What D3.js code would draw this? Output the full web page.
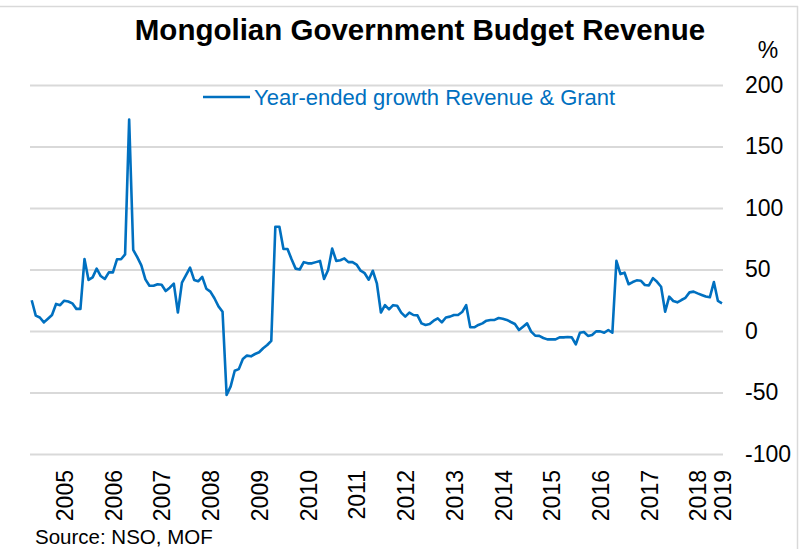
<!DOCTYPE html>
<html>
<head>
<meta charset="utf-8">
<script src="https://cdn.jsdelivr.net/npm/d3@7"></script>
<style>
  body { margin: 0; background: #fff; }
  text { font-family: "Liberation Sans", Arial, sans-serif; }
</style>
</head>
<body>
<div class="graph"></div>
<script>
// monthly year-ended growth, %
var values = [
  25, 12.5, 11, 7, 10, 13, 22, 21, 24.6, 24, 22.5, 18, 18, 58.5, 41.5, 43.6, 50.7, 44.7, 42.3, 47.7,
  47.7, 58.3, 58.3, 62.3, 172, 66, 60, 53.4, 42, 36.8, 36.8, 38, 37.6, 32.5, 35.2, 38.5, 15, 39.3, 45.5, 51.5,
  41.5, 40.4, 44, 34.4, 32, 26.6, 20, 15.7, -52, -45, -32.3, -31, -22.8, -20, -20.6, -18.7, -17.3, -14, -11.4, -8,
  84.8, 84.8, 66.7, 66.7, 58.3, 50.7, 50, 56, 55, 55, 56, 57, 42.3, 49.6, 67, 57, 57.5, 59, 56, 56,
  54, 49, 47, 41.7, 49, 38.8, 15, 21, 17.6, 21, 20.5, 15, 11.7, 15, 13, 12.7, 6.2, 4.9, 5.7, 8.4,
  10.3, 7, 11, 11.7, 13, 13, 15.4, 21, 3, 3, 4.9, 6.2, 8.4, 9, 9, 10.6, 10, 9, 7.3, 5.7,
  0.8, 3.5, 6.2, -0.5, -3.8, -4, -5.7, -6.8, -6.8, -6.8, -5.2, -5.2, -4.9, -5.2, -10.8, -1.5, -0.8, -4, -3.3, -0.3,
  -0.3, -1.4, 0.8, -1.4, 57, 46.3, 47.4, 38, 39.8, 41.2, 40.9, 37.4, 37.1, 43, 40, 36, 15.7, 27.9, 24.4, 23.3,
  25.2, 27, 31.4, 32, 30.6, 29.3, 28, 27.4, 39.8, 24.4, 22.5
]

var yearLabels = ['2005','2006','2007','2008','2009','2010','2011','2012','2013','2014','2015','2016','2017','2018']
var lastLabel = '2019'
var firstLabelMonth = 8
var yTicks = [-100, -50, 0, 50, 100, 150, 200]

var seriesName = 'Year-ended growth Revenue & Grant'
var title = 'Mongolian Government Budget Revenue'
var source = 'Source: NSO, MOF'

// category labels, one per month, blank except at year marks
var categories = values.map((d, i) => '')
yearLabels.forEach((s, k) => categories[firstLabelMonth + 12*k] = s)
categories[values.length - 1] = lastLabel

var width = 804, height = 549
var blue = '#0070C0', grid = '#d9d9d9'

var svg = d3.select('.graph').append('svg')
  .attr('width', width).attr('height', height)

// chart frame
svg.append('line').attr('x1', 0).attr('x2', 798).attr('y1', 6.5).attr('y2', 6.5)
  .attr('stroke', grid).attr('stroke-width', 1.5)
svg.append('line').attr('x1', 797.5).attr('x2', 797.5).attr('y1', 6).attr('y2', height)
  .attr('stroke', grid).attr('stroke-width', 1.5)

var x = d3.scaleLinear().domain([0, values.length - 1]).range([31.7, 722])
var y = d3.scaleLinear().domain([-100, 200]).range([454, 85])

var plotLeft = 30, plotRight = 723

var yAxis = d3.axisRight(y)
  .tickValues(yTicks)
  .tickSize(-(plotRight - plotLeft))
  .tickPadding(22)
  .tickFormat(d => String(d))

var yAxisSel = svg.append('g')
  .attr('transform', `translate(${plotRight},0)`)
  .call(yAxis)
yAxisSel.select('.domain').remove()
yAxisSel.selectAll('.tick line').attr('stroke', grid).attr('stroke-width', 2)
yAxisSel.selectAll('.tick text')
  .attr('font-size', 23).attr('fill', '#000')
  .attr('font-family', '"Liberation Sans", Arial, sans-serif')

svg.append('text')
  .attr('x', 768).attr('y', 58)
  .attr('text-anchor', 'middle')
  .attr('font-size', 23)
  .text('%')

var tickIdx = categories.map((c, i) => i).filter(i => categories[i])
var xAxis = d3.axisBottom(x)
  .tickValues(tickIdx)
  .tickSize(0)
  .tickFormat(i => categories[i])

var xAxisSel = svg.append('g')
  .attr('transform', 'translate(0,470)')
  .call(xAxis)
xAxisSel.select('.domain').remove()
xAxisSel.selectAll('.tick text')
  .attr('transform', 'rotate(-90)')
  .attr('text-anchor', 'end')
  .attr('x', 0).attr('y', 0).attr('dy', '.36em')
  .attr('font-size', 23).attr('fill', '#000')
  .attr('font-family', '"Liberation Sans", Arial, sans-serif')

var line = d3.line()
  .x((d, i) => x(i))
  .y(d => y(d))

svg.append('path')
  .datum(values)
  .attr('d', line)
  .attr('fill', 'none')
  .attr('stroke', blue)
  .attr('stroke-width', 2.6)
  .attr('stroke-linejoin', 'round')

// legend
svg.append('line')
  .attr('x1', 203).attr('x2', 250).attr('y1', 97).attr('y2', 97)
  .attr('stroke', blue).attr('stroke-width', 2.6)
svg.append('text')
  .attr('x', 254).attr('y', 105)
  .attr('font-size', 22).attr('fill', blue)
  .text(seriesName)

svg.append('text')
  .attr('x', 420).attr('y', 40)
  .attr('text-anchor', 'middle')
  .attr('font-size', 29.5).attr('font-weight', 'bold')
  .text(title)

svg.append('text')
  .attr('x', 35).attr('y', 544)
  .attr('font-size', 20.5)
  .text(source)
</script>
</body>
</html>
